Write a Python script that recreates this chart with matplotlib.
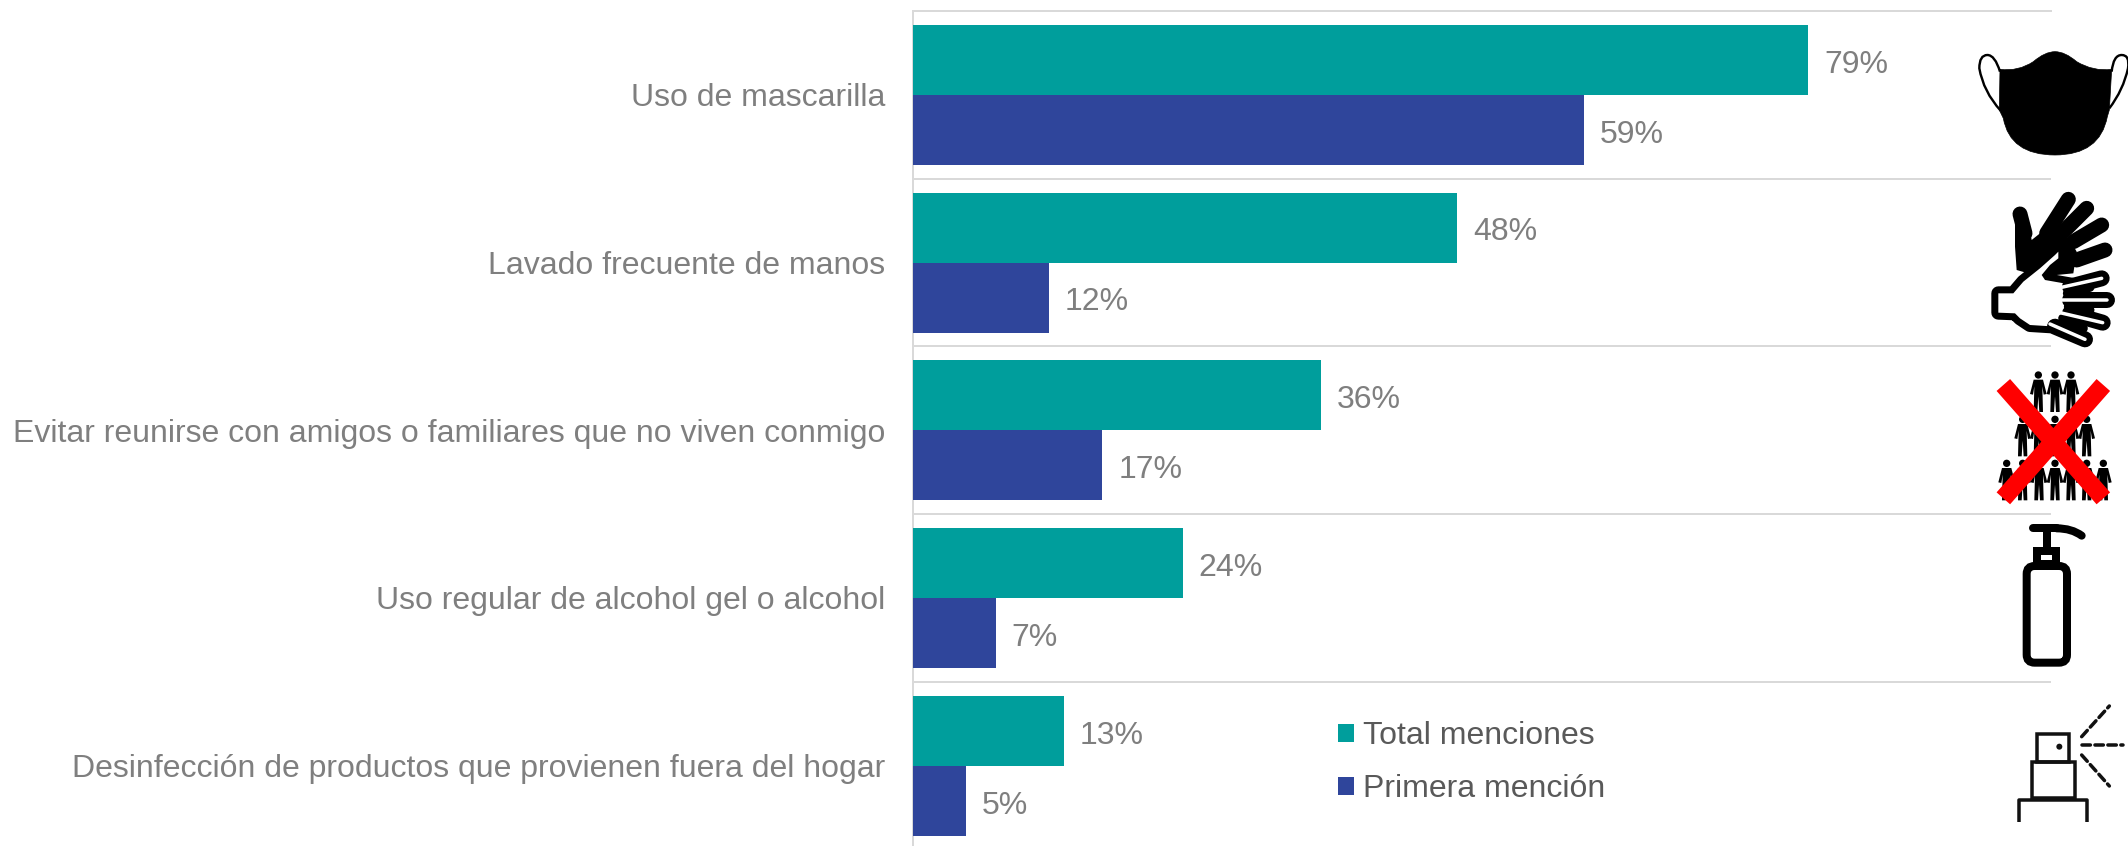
import numpy as np
import matplotlib
matplotlib.use('Agg')
import matplotlib.pyplot as plt
from matplotlib.patches import Circle, PathPatch, Polygon, Rectangle, FancyBboxPatch
from matplotlib.path import Path

categories = ['Uso de mascarilla',
              'Lavado frecuente de manos',
              'Evitar reunirse con amigos o familiares que no viven conmigo',
              'Uso regular de alcohol gel o alcohol',
              'Desinfección de productos que provienen fuera del hogar']
total_menciones = [79, 48, 36, 23.8, 13.3]
primera_mencion = [59.2, 12, 16.7, 7.3, 4.7]
series_names = ['Total menciones', 'Primera mención']

TEAL = '#009e9c'
BLUE = '#2f459b'
GRID = '#d9d9d9'
W, H = 2128, 846

plt.rcParams['font.family'] = ['Liberation Sans', 'DejaVu Sans']
PX = 72 / 100  # points per pixel at dpi 100

fig = plt.figure(figsize=(W / 100, H / 100), dpi=100)
ax = fig.add_axes([913 / W, 0, (2051 - 913) / W, (H - 11) / H])

y = np.arange(len(categories))
bar_h = 70 / 167.7
bars1 = ax.barh(y - bar_h / 2, total_menciones, bar_h, color=TEAL, label=series_names[0], zorder=3)
bars2 = ax.barh(y + bar_h / 2, primera_mencion, bar_h, color=BLUE, label=series_names[1], zorder=3)

ax.set_xlim(0, 100.4)
ax.set_ylim(4.5 - 3.5 / 167.7, -0.5)
ax.set_yticks(y)
ax.set_yticklabels(categories, fontsize=23, color='#7f7f7f')
ax.set_yticks(y[:-1] + 0.5, minor=True)
ax.tick_params(axis='y', which='both', length=0, pad=20)
ax.set_xticks([])
ax.grid(True, axis='y', which='minor', color=GRID, lw=2 * PX, zorder=0)

for side in ['right', 'bottom']:
    ax.spines[side].set_visible(False)
for side in ['left', 'top']:
    ax.spines[side].set_color(GRID)
    ax.spines[side].set_linewidth(2 * PX)

for bars, vals in [(bars1, total_menciones), (bars2, primera_mencion)]:
    labs = ax.bar_label(bars, labels=[f'{v:.0f}%' for v in vals], padding=11.5, fontsize=23, color='#7f7f7f')
    for lab in labs:
        lab.xyann = (lab.xyann[0], -3.5)

ax.legend(handles=[bars1, bars2], loc='upper left', bbox_to_anchor=(1338 / W, 1 - 721 / H),
          bbox_transform=fig.transFigure, frameon=False, fontsize=23, labelcolor='#595959',
          handlelength=0.5, handleheight=0.5, handletextpad=0.27, labelspacing=0.72,
          borderpad=0, borderaxespad=0)

# icons on the right, drawn in pixel coordinates of the figure
ic = fig.add_axes([0, 0, 1, 1], facecolor='none')
ic.set_xlim(0, W)
ic.set_ylim(H, 0)
ic.axis('off')


def zpts(pts, ox, oy):
    # zoomed crop coords -> figure pixels
    return [(ox + a / 3, oy + b / 3) for a, b in pts]


def curve(pts, ox, oy, **kw):
    # pts = start, then (control, end) pairs
    verts = zpts(pts, ox, oy)
    codes = [Path.MOVETO] + [Path.CURVE3] * (len(verts) - 1)
    ic.add_patch(PathPatch(Path(verts, codes), **kw))


def zline(pts, ox, oy, lw, color='black', cap='round', **kw):
    p = zpts(pts, ox, oy)
    ic.plot([a for a, b in p], [b for a, b in p], color=color, lw=lw * PX,
            solid_capstyle=cap, solid_joinstyle='round', **kw)


# mask
M0 = (1900, 0)
ear = dict(fc='white', ec='black', lw=2.4 * PX)
curve([(300, 215), (285, 165), (262, 165), (238, 165), (238, 205), (250, 275), (302, 332)], *M0, **ear)
curve([(635, 215), (640, 165), (665, 165), (690, 165), (684, 205), (670, 270), (628, 325)], *M0, **ear)
mask_v = [(300, 208), (355, 215), (400, 185), (435, 155), (465, 155), (495, 155), (530, 185), (580, 215), (635, 208),
          (628, 330), (622, 350), (600, 465), (465, 465), (330, 465), (310, 355), (298, 330), (300, 208)]
mask_codes = [Path.MOVETO] + [Path.CURVE3] * 8 + [Path.LINETO, Path.LINETO] + [Path.CURVE3] * 4 + [Path.LINETO] * 2
ic.add_patch(PathPatch(Path(zpts(mask_v, *M0), mask_codes), fc='black', ec='black', lw=0.5))

# hands
Z2 = (1990, 190)
Z1 = (2050, 250)
ic.add_patch(Polygon(zpts([(75, 80), (110, 70), (125, 150), (150, 130), (205, 125), (240, 150), (260, 185),
                           (250, 250), (150, 260), (80, 240), (75, 170)], *Z2),
                     closed=True, fc='black', ec='none'))
zline([(90, 72), (105, 130)], *Z2, lw=15)
for a, b in [((235, 28), (170, 130)), ((290, 55), (215, 130)), ((335, 105), (250, 155)), ((345, 180), (260, 210))]:
    zline([a, b], *Z2, lw=15)
for a, b in [((60, 110), (155, 85)), ((60, 150), (172, 150)), ((60, 190), (158, 218)), ((15, 230), (105, 268))]:
    zline([a, b], *Z1, lw=16)
palm = [(25, 310), (70, 310), (100, 275), (150, 235), (195, 195), (205, 185), (205, 205), (180, 225), (155, 255),
        (165, 270), (250, 285), (245, 310), (235, 325), (235, 350), (245, 365), (215, 390), (200, 410),
        (120, 405), (90, 385), (75, 370), (25, 368)]
ic.add_patch(Polygon(zpts(palm, *Z2), closed=True, fc='none', ec='black', lw=14 * PX, joinstyle='round'))
ic.add_patch(Polygon(zpts(palm, *Z2), closed=True, fc='white', ec='none'))
for a, b in [((52, 130), (120, 112)), ((55, 170), (120, 180)), ((38, 205), (100, 235))]:
    zline([a, b], *Z1, lw=9)
for a, b in [((30, 113), (155, 85)), ((25, 150), (172, 150)), ((30, 188), (158, 218)), ((0, 222), (105, 268))]:
    zline([a, b], *Z1, lw=3.5, color='white')

# crowd with the red cross
P0 = (1900, 360)


def person(cx, top):
    ic.add_patch(Circle(zpts([(cx, top + 11)], *P0)[0], 11 / 3, fc='black', ec='none'))
    body = [(cx - 14, top + 25), (cx + 14, top + 25), (cx + 25, top + 68), (cx + 16, top + 70), (cx + 12, top + 45),
            (cx + 14, top + 122), (cx + 3, top + 122), (cx, top + 75), (cx - 3, top + 122), (cx - 14, top + 122),
            (cx - 12, top + 45), (cx - 16, top + 70), (cx - 25, top + 68)]
    ic.add_patch(Polygon(zpts(body, *P0), closed=True, fc='black', ec='none'))


for cx in [415, 465, 513]:
    person(cx, 34)
for cx in [368, 415, 465, 513, 560]:
    person(cx, 167)
for cx in [320, 368, 417, 465, 513, 560, 610]:
    person(cx, 299)
zline([(310, 75), (610, 415)], *P0, lw=18, color='#ff0000', cap='butt')
zline([(610, 75), (310, 415)], *P0, lw=18, color='#ff0000', cap='butt')

# bottle
curve([(470, 505), (515, 505), (545, 527)], *P0, fc='none', ec='black', lw=8 * PX, capstyle='round')
zline([(398, 505), (470, 505)], *P0, lw=8)
zline([(440, 505), (440, 565)], *P0, lw=8, cap='butt')
ic.add_patch(Rectangle(zpts([(412, 572)], *P0)[0], 56 / 3, 40 / 3, fc='none', ec='black', lw=8 * PX))
ic.add_patch(FancyBboxPatch(zpts([(380, 618)], *P0)[0], 121 / 3, 290 / 3,
                            boxstyle='round,pad=0,rounding_size=8', fc='white', ec='black', lw=8 * PX))

# spray
c = '#111111'
ic.add_patch(Rectangle(zpts([(412, 1122)], *P0)[0], 96 / 3, 83 / 3, fc='none', ec=c, lw=3.5 * PX))
ic.add_patch(Rectangle(zpts([(396, 1205)], *P0)[0], 128 / 3, 110 / 3, fc='none', ec=c, lw=3.5 * PX))
zline([(358, 1385), (358, 1320), (562, 1320), (562, 1385)], *P0, lw=3.5, color=c, cap='butt')
ic.add_patch(Circle(zpts([(478, 1160)], *P0)[0], 3, fc=c, ec='none'))
for seg in [[(545, 1130), (628, 1038)], [(545, 1155), (670, 1155)], [(545, 1185), (628, 1278)]]:
    p = zpts(seg, *P0)
    ic.plot([p[0][0], p[1][0]], [p[0][1], p[1][1]], color=c, lw=3.5 * PX, dashes=(2.4, 1.3), dash_capstyle='round')

fig.savefig('out.png', dpi=100)
